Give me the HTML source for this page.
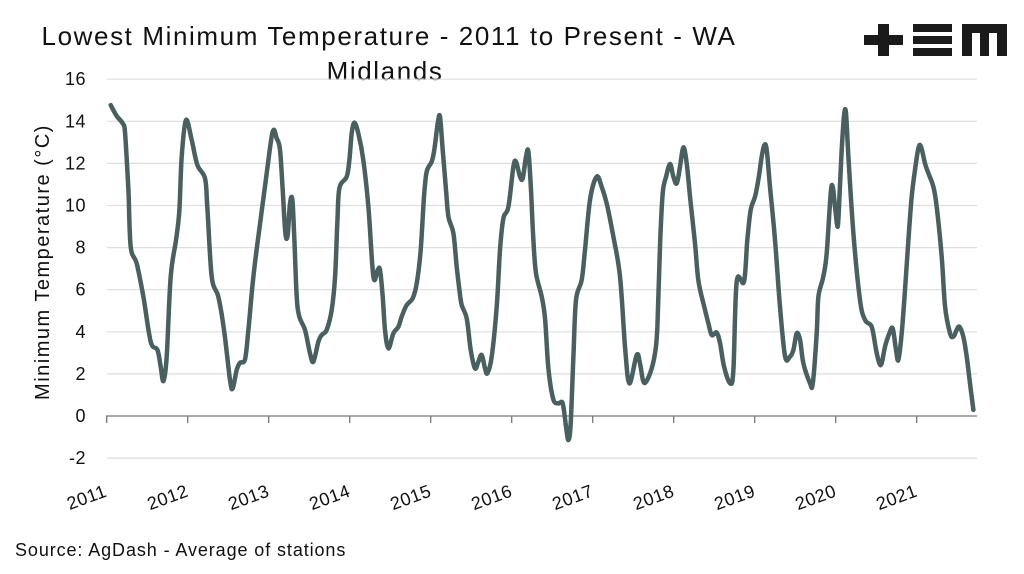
<!DOCTYPE html>
<html><head><meta charset="utf-8"><style>
html,body{margin:0;padding:0;background:#fff;}
body{width:1024px;height:569px;overflow:hidden;font-family:"Liberation Sans",sans-serif;}
</style></head><body>
<svg width="1024" height="569" viewBox="0 0 1024 569">
<g font-size="26" fill="#111" text-anchor="middle" letter-spacing="1.6">
<text x="389" y="45">Lowest Minimum Temperature - 2011 to Present - WA</text>
<text x="385" y="80">Midlands</text>
</g>
<g fill="#1a1a1a">
<rect x="864" y="35" width="39" height="10"/><rect x="878" y="24" width="11" height="32"/>
<rect x="913" y="24" width="39" height="8"/><rect x="913" y="36" width="39" height="8"/><rect x="913" y="48" width="39" height="8"/>
<path d="M962 24 H1007 V56 H997 V33 H989 V56 H980 V33 H972 V56 H962 Z"/>
</g>
<g id="grid"></g>
<g id="yt" font-size="18" fill="#111" text-anchor="end" letter-spacing="0.5"></g>
<g id="xt"></g>
<text transform="translate(49,262) rotate(-90)" text-anchor="middle" font-size="20" fill="#111" letter-spacing="1.5">Minimum Temperature (°C)</text>
<path id="line" fill="none" stroke="#4a6060" stroke-width="4.5" stroke-linejoin="round" stroke-linecap="round"/>
<text x="15" y="556" font-size="18" fill="#111" letter-spacing="0.9">Source: AgDash - Average of stations</text>
</svg>
<script>
// months since Jan 2011
const months=[0.59,1.48,2.37,2.72,3.21,3.56,4.44,5.43,6.52,7.51,8.0,8.4,8.89,9.48,10.27,10.77,11.11,11.75,12.59,13.43,14.57,14.91,15.56,16.54,17.38,18.27,18.67,19.26,19.75,20.49,20.99,21.73,22.72,23.7,24.59,25.19,25.68,26.07,26.47,26.81,27.16,27.51,27.8,28.15,28.54,29.38,30.12,30.62,31.36,31.85,32.59,33.33,33.83,34.17,34.47,35.56,35.95,36.3,36.69,37.28,38.02,38.77,39.51,40.15,40.49,40.89,41.23,41.73,42.47,43.21,43.7,44.44,45.33,45.93,46.52,47.01,47.41,48.15,48.54,49.04,49.38,49.78,50.27,50.62,51.36,51.85,52.25,52.59,53.33,53.93,54.57,55.06,55.56,56.05,56.4,57.04,57.78,58.27,58.77,59.51,60.25,60.64,61.23,61.63,62.12,62.47,62.86,63.21,63.6,64.44,
64.94,65.43,66.17,66.91,67.56,68.05,68.4,68.74,69.14,69.53,70.37,70.86,71.6,72.59,73.33,74.07,75.06,76.05,76.79,77.43,78.52,79.01,79.6,80.5,81.23,81.58,81.98,82.37,82.87,83.46,83.95,84.45,84.94,85.43,85.93,86.42,87.16,87.65,88.4,89.14,89.63,90.37,90.87,91.46,92.35,92.84,93.33,94.42,94.91,95.41,96.05,96.54,97.04,97.43,97.78,98.27,99.01,99.75,100.5,101.23,101.73,102.22,102.72,103.21,104.2,104.6,105.19,105.43,106.17,106.67,107.26,107.56,107.9,108.3,108.54,108.89,109.24,109.53,109.88,110.62,111.6,112.35,113.33,113.98,114.47,114.81,115.31,115.95,116.44,116.94,117.28,117.78,118.27,118.77,119.26,119.75,120.25,120.64,121.23,121.73,122.47,122.96,123.7,124.2,124.94,125.43,125.93,126.32,126.91,127.41,127.9,128.4];
const temps=[14.77,14.25,13.9,13.43,10.74,8.04,7.25,5.67,3.53,3.14,2.34,1.66,2.82,6.62,8.36,9.79,12.32,14.06,13.11,11.92,11.29,9.94,6.62,5.67,4.09,1.71,1.31,2.19,2.53,2.69,4.09,6.62,9.15,11.53,13.51,13.19,12.64,10.74,8.68,8.6,10.1,10.26,8.36,5.67,4.72,4.09,2.98,2.58,3.53,3.85,4.09,5.04,6.62,9.15,10.82,11.37,12.16,13.43,13.94,13.43,12.16,9.94,6.62,6.94,6.94,5.67,4.09,3.21,3.93,4.24,4.72,5.27,5.59,6.3,7.89,10.42,11.61,12.08,12.64,13.9,14.22,12.64,10.74,9.47,8.68,7.09,5.99,5.27,4.64,3.14,2.26,2.58,2.9,2.26,2.03,2.82,5.19,7.89,9.39,9.94,11.84,12.08,11.37,11.29,12.32,12.56,10.74,8.36,6.78,5.67,
4.64,2.26,0.79,0.6,0.6,-0.51,-1.14,-0.35,2.82,5.51,6.46,7.89,10.26,11.37,10.89,10.1,8.52,6.62,3.29,1.55,2.9,2.5,1.58,2.03,2.98,4.24,8.2,10.58,11.37,11.97,11.37,11.05,11.84,12.76,12.0,10.42,8.2,6.46,5.35,4.4,3.85,3.96,3.45,2.34,1.55,2.19,6.38,6.38,8.36,9.79,10.42,11.21,12.32,12.87,12.64,10.89,8.36,5.19,2.82,2.82,3.14,3.93,3.61,2.5,1.55,1.55,3.93,5.67,6.62,7.73,10.58,10.89,9.94,8.99,10.26,12.64,14.3,14.38,12.32,8.68,5.51,4.56,4.24,3.14,2.5,2.5,3.29,3.93,4.16,3.14,2.66,3.93,5.99,8.36,10.42,11.69,12.72,12.8,12.0,11.53,10.89,9.94,7.57,5.19,3.93,3.77,4.09,4.24,3.77,2.82,1.55,0.29];
const yTicks=[-2,0,2,4,6,8,10,12,14,16];
const xLabels=["2011","2012","2013","2014","2015","2016","2017","2018","2019","2020","2021"];
const X0=106.7,PXM=81/12,Y0=416,PYU=21.05;
const xs=m=>X0+m*PXM, ys=v=>Y0-v*PYU;
const NS="http://www.w3.org/2000/svg";
const grid=document.getElementById('grid'),yt=document.getElementById('yt'),xt=document.getElementById('xt');
yTicks.forEach(t=>{
  if(t!==0){const l=document.createElementNS(NS,'line');
  
  
  l.setAttribute('x1',107);l.setAttribute('x2',977);l.setAttribute('y1',ys(t));l.setAttribute('y2',ys(t));
  l.setAttribute('stroke','#dedede');l.setAttribute('stroke-width','1.2');grid.appendChild(l);}
  const tx=document.createElementNS(NS,'text');
  
  
  tx.setAttribute('x',86);tx.setAttribute('y',ys(t)+6);tx.textContent=t;yt.appendChild(tx);
});
const ax=document.createElementNS(NS,'line');


ax.setAttribute('x1',106);ax.setAttribute('x2',977);ax.setAttribute('y1',Y0);ax.setAttribute('y2',Y0);
ax.setAttribute('stroke','#777');ax.setAttribute('stroke-width','1.3');xt.appendChild(ax);
xLabels.forEach((lab,i)=>{
  const x=xs(i*12);
  const tk=document.createElementNS(NS,'line');
  
  
  tk.setAttribute('x1',x);tk.setAttribute('x2',x);tk.setAttribute('y1',Y0);tk.setAttribute('y2',Y0+7);
  tk.setAttribute('stroke','#777');tk.setAttribute('stroke-width','1.3');xt.appendChild(tk);
  const tx=document.createElementNS(NS,'text');
  
  
  tx.setAttribute('transform',`translate(${x-18},${503}) rotate(-20)`);
  tx.setAttribute('text-anchor','middle');tx.setAttribute('font-size','18');tx.setAttribute('fill','#111');tx.setAttribute('letter-spacing','0.5');
  tx.textContent=lab;xt.appendChild(tx);
});
const P=months.map((m,i)=>[xs(m),ys(temps[i])]);
let d='M'+P[0][0].toFixed(1)+' '+P[0][1].toFixed(1);
for(let i=0;i<P.length-1;i++){
  const p0=P[Math.max(0,i-1)],p1=P[i],p2=P[i+1],p3=P[Math.min(P.length-1,i+2)];
  const c1=[p1[0]+(p2[0]-p0[0])/6,p1[1]+(p2[1]-p0[1])/6];
  const c2=[p2[0]-(p3[0]-p1[0])/6,p2[1]-(p3[1]-p1[1])/6];
  d+=` C${c1[0].toFixed(1)} ${c1[1].toFixed(1)} ${c2[0].toFixed(1)} ${c2[1].toFixed(1)} ${p2[0].toFixed(1)} ${p2[1].toFixed(1)}`;
}
document.getElementById('line').setAttribute('d',d);
</script>
</body></html>
